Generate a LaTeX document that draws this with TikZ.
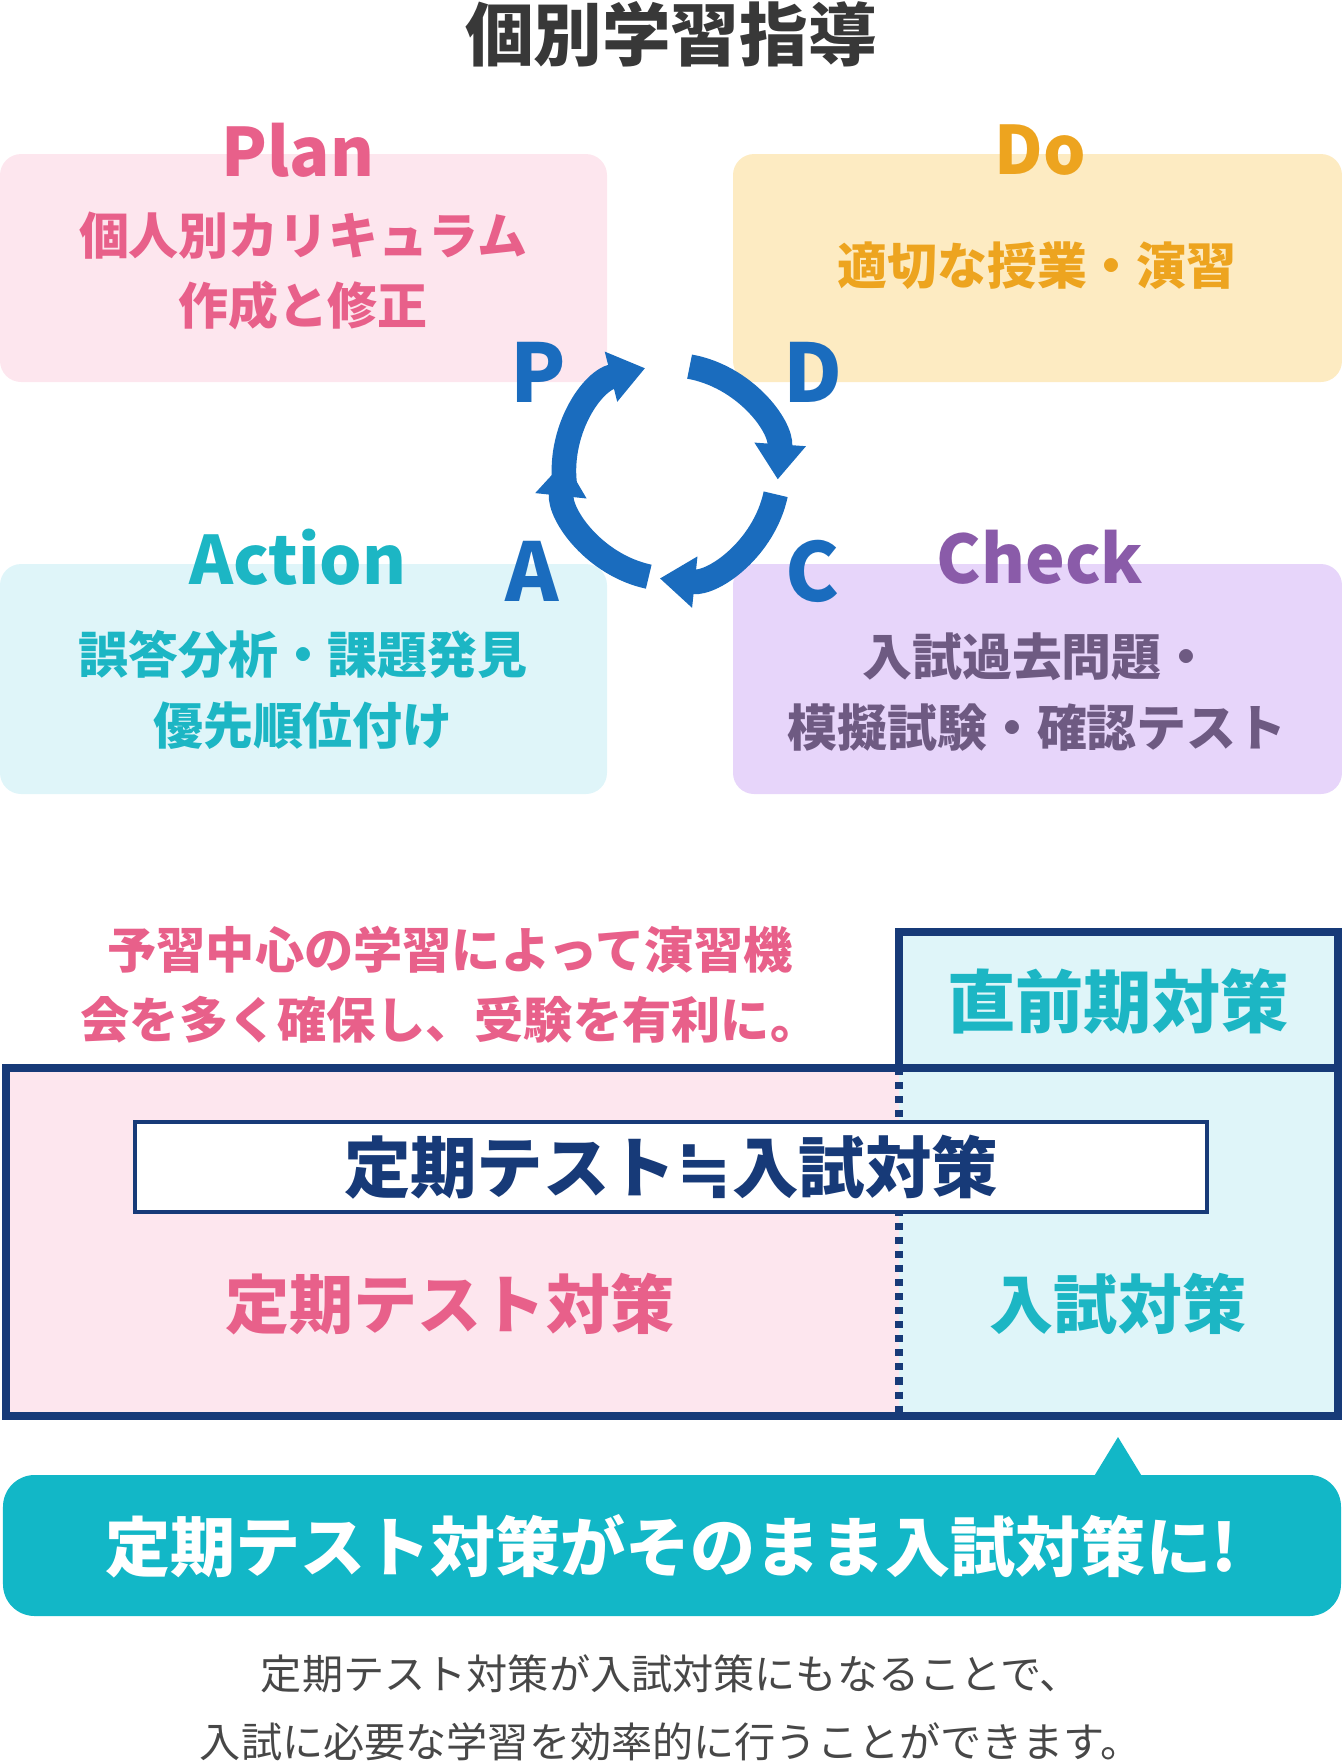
\documentclass[tikz,border=0pt]{standalone}
\usepackage{fontspec}
\setmainfont{Noto Sans CJK JP}
\newfontfamily\symfont{DejaVu Sans}
\usetikzlibrary{arrows.meta}
\definecolor{navy}{HTML}{173A78}
\definecolor{pinkbg}{HTML}{FDE6EE}
\definecolor{pinktx}{HTML}{E8608A}
\definecolor{dobg}{HTML}{FDEBC2}
\definecolor{dotx}{HTML}{EDA41F}
\definecolor{cyanbg}{HTML}{DFF5F9}
\definecolor{cyantx}{HTML}{1CB6C4}
\definecolor{chkbg}{HTML}{E7D5FA}
\definecolor{chkhd}{HTML}{8A5BA9}
\definecolor{chktx}{HTML}{6E5A82}
\definecolor{cycle}{HTML}{1A6CBE}
\definecolor{callout}{HTML}{12B7C7}
\tikzset{
  pbox/.style={rounded corners=6pt},
  head/.style={font=\fontsize{19}{20}\selectfont\bfseries},
  body/.style={font=\fontsize{14.2}{20}\selectfont\bfseries,align=center},
  letter/.style={font=\fontsize{23}{23}\selectfont\bfseries,text=cycle},
  ring/.style={line width=7pt,cycle,-{Triangle[length=10pt,width=14pt]}}
}
\begin{document}
\begin{tikzpicture}[x=0.01cm,y=-0.01cm]
  \useasboundingbox (0,0) rectangle (1342,1762);
  \node[font=\fontsize{19.5}{20}\selectfont\bfseries,text=black!78] (title) at (671,34) {個別学習指導};
  % PDCA boxes
  \fill[pbox,pinkbg] (0,154) rectangle (607,382);
  \fill[pbox,dobg] (733,154) rectangle (1342,382);
  \fill[pbox,cyanbg] (0,564) rectangle (607,794);
  \fill[pbox,chkbg] (733,564) rectangle (1342,794);
  \node[head,text=pinktx] (plan) at (298,150) {Plan};
  \node[body,text=pinktx] (plantx) at (303,271) {個人別カリキュラム\\作成と修正};
  \node[head,text=dotx] (do) at (1040,150) {Do};
  \node[body,text=dotx] (dotx) at (1037,266) {適切な授業・演習};
  \node[head,text=cyantx] (action) at (298,557) {Action};
  \node[body,text=cyantx] (actiontx) at (303,690) {誤答分析・課題発見\\優先順位付け};
  \node[head,text=chkhd] (check) at (1040,557) {Check};
  \node[body,text=chktx] (checktx) at (1037,692) {入試過去問題・\\模擬試験・確認テスト};
  % cycle
  \coordinate (cyc) at (671,472);
  \draw[ring] ([shift={(-192:107)}]cyc) arc[start angle=-192,end angle=-104,radius=107];
  \draw[ring] ([shift={(-80:107)}]cyc) arc[start angle=-80,end angle=4,radius=107];
  \draw[ring] ([shift={(12:107)}]cyc) arc[start angle=12,end angle=96,radius=107];
  \draw[ring] ([shift={(102:107)}]cyc) arc[start angle=102,end angle=186,radius=107];
  \node[letter] (p) at (538,372) {P};
  \node[letter] (d) at (813,372) {D};
  \node[letter] (a) at (532,571) {A};
  \node[letter] (c) at (812,571) {C};
  % lower part
  \node[font=\fontsize{14}{20}\selectfont\bfseries,text=pinktx,align=center] (lead) at (450,985)
    {予習中心の学習によって演習機\\会を多く確保し、受験を有利に。};
  \fill[pinkbg] (6,1068) rectangle (899,1416);
  \fill[cyanbg] (899,1068) rectangle (1338,1416);
  \draw[navy,line width=2pt,dotted] (899,1068) -- (899,1416);
  \draw[navy,line width=2.2pt,fill=cyanbg] (899,932) rectangle (1338,1068);
  \draw[navy,line width=2.2pt] (6,1068) rectangle (1338,1416);
  \node[font=\fontsize{19.4}{20}\selectfont\bfseries,text=cyantx] (final) at (1118,1001) {直前期対策};
  \node[draw=navy,line width=1.2pt,fill=white,minimum width=305pt,minimum height=25.5pt,
    font=\fontsize{18.9}{20}\selectfont\bfseries,text=navy]
    (eq) at (671,1167) {定期テスト{\symfont\bfseries ≒}入試対策};
  \node[font=\fontsize{18.2}{20}\selectfont\bfseries,text=pinktx] (teiki) at (450,1304) {定期テスト対策};
  \node[font=\fontsize{18.2}{20}\selectfont\bfseries,text=cyantx] (nyushi) at (1118,1304) {入試対策};
  % callout
  \fill[callout,rounded corners=9pt] (3,1475) rectangle (1341,1616);
  \fill[callout] (1093,1478) -- (1118,1437) -- (1143,1478) -- cycle;
  \node[font=\fontsize{18.5}{20}\selectfont\bfseries,text=white] (msg) at (671,1546) {定期テスト対策がそのまま入試対策に!};
  \node[font=\fontsize{11.7}{19.5}\selectfont,text=black!72,align=center] (note) at (671,1708)
    {定期テスト対策が入試対策にもなることで、\\入試に必要な学習を効率的に行うことができます。};
\end{tikzpicture}
\end{document}
